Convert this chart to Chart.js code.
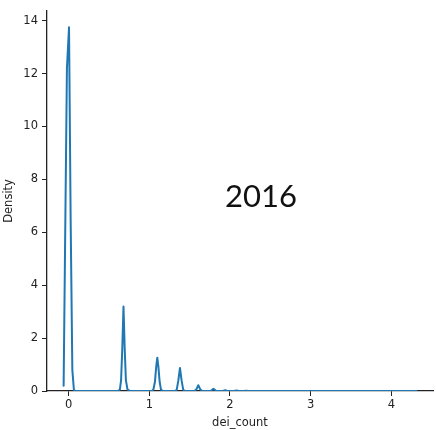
<!DOCTYPE html>
<html>
<head>
<meta charset="utf-8">
<script src="https://cdn.jsdelivr.net/npm/chart.js@4.4.0/dist/chart.umd.min.js"></script>
<style>
html,body{margin:0;padding:0;background:#fff;}
#wrap{position:relative;width:436px;height:430px;}
#yr{position:absolute;left:261px;top:195px;transform:translate(-50%,-50%);font-family:Lato,"Open Sans",sans-serif;font-size:31px;color:#111;}
</style>
</head>
<body>
<div id="wrap"><canvas id="c" width="436" height="430"></canvas><div id="yr">2016</div></div>
<script>
// KDE curve of dei_count
const xVals = [-0.062,-0.021,0.005,0.025,0.046,0.066,0.09,
  0.61,0.635,0.65,0.665,0.68,0.695,0.71,0.73,0.76,
  1.03,1.05,1.07,1.085,1.099,1.113,1.128,1.145,1.17,
  1.32,1.34,1.36,1.38,1.40,1.42,1.44,
  1.56,1.585,1.607,1.63,1.655,
  1.76,1.795,1.83,
  1.91,1.94,1.97,2.05,2.08,2.11,2.17,2.20,2.23,2.40,3.00,3.60,4.31];
const densVals = [0.2,12.2,13.75,6.5,0.8,0.02,0,
  0,0.05,0.4,1.6,3.19,1.6,0.4,0.05,0,
  0,0.05,0.35,0.9,1.26,0.9,0.35,0.05,0,
  0,0.05,0.4,0.87,0.4,0.05,0,
  0,0.07,0.22,0.07,0,
  0,0.085,0,
  0,0.03,0,0,0.02,0,0,0.01,0,0,0,0,0];
const yTicks = [0,2,4,6,8,10,12,14];
const xTicks = [0,1,2,3,4];

const pts = xVals.map((x,i)=>({x:x,y:densVals[i]}));
const txt = '#222';
const font = {family:'"DejaVu Sans",sans-serif', size:11.5};
new Chart(document.getElementById('c'),{
  type:'line',
  data:{datasets:[{data:pts,borderColor:'#1f77b4',borderWidth:2,borderJoinStyle:'round',borderCapStyle:'round',pointRadius:0,tension:0,fill:false}]},
  options:{
    responsive:false,animation:false,
    layout:{padding:{top:0,right:3,left:0,bottom:0}},
    plugins:{legend:{display:false},tooltip:{enabled:false}},
    scales:{
      x:{type:'linear',min:-0.268,max:4.516,
        afterBuildTicks:s=>{s.ticks=xTicks.map(v=>({value:v}));},
        afterFit:s=>{s.height=39;},
        ticks:{color:txt,font:font,padding:2,maxRotation:0,callback:v=>String(v)},
        grid:{display:true,drawOnChartArea:false,drawTicks:true,tickLength:5,color:'#222'},
        border:{display:true,color:'#222',width:1.3},
        title:{display:true,text:'dei_count',color:txt,font:{family:'"DejaVu Sans",sans-serif',size:11.5},padding:{top:0,bottom:0}}
      },
      y:{type:'linear',min:0,max:14.37,
        afterBuildTicks:s=>{s.ticks=yTicks.map(v=>({value:v}));},
        afterFit:s=>{s.width=47;},
        ticks:{color:txt,font:font,padding:4,callback:v=>String(v)},
        grid:{display:true,drawOnChartArea:false,drawTicks:true,tickLength:5,color:'#222'},
        border:{display:true,color:'#222',width:1.3},
        title:{display:true,text:'Density',color:txt,font:{family:'"DejaVu Sans",sans-serif',size:11.5},padding:{top:2,bottom:0}}
      }
    }
  }
});
</script>
</body>
</html>
